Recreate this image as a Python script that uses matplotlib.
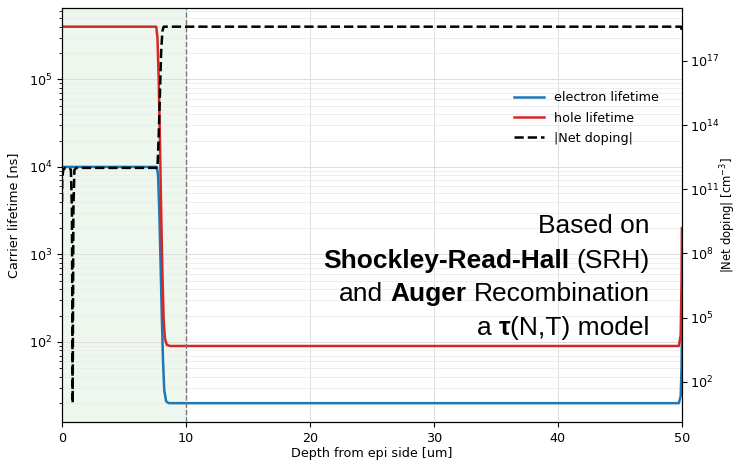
import numpy as np
import matplotlib
matplotlib.use("Agg")
import matplotlib.pyplot as plt
from matplotlib.ticker import NullLocator

# depth profile [um]
depth_e = [0, 7.65, 7.75, 7.85, 7.95, 8.05, 8.15, 8.25, 8.4, 8.6, 49.75, 49.9, 49.97, 50]
tau_e = [1e4, 1e4, 8e3, 3e3, 800, 200, 60, 28, 21, 20, 20, 24, 50, 120]

depth_h = [0, 7.6, 7.7, 7.8, 7.9, 8.0, 8.1, 8.2, 8.3, 8.45, 8.7, 49.75, 49.9, 49.97, 50]
tau_h = [4e5, 4e5, 3e5, 1e5, 2e4, 3e3, 600, 180, 110, 93, 90, 90, 120, 500, 2000]

depth_d = [0, 0.02, 0.1, 0.25, 0.6, 0.72, 0.8, 0.86, 0.92, 1.0, 1.15, 7.7, 7.8, 7.9, 8.0, 8.1, 8.2, 49.95, 50]
net_dop = [2.5e10, 3e11, 8e11, 1e12, 1e12, 8e11, 1e10, 10, 1e10, 8e11, 1e12, 1e12, 3e13, 3e15, 3e17, 2.5e18, 4e18, 4e18, 2e18]

doping_ticks = [1e2, 1e5, 1e8, 1e11, 1e14, 1e17]

# (text, weight, space before it)
note_lines = [
    [("Based on", "normal", 0)],
    [("Shockley-Read-Hall", "bold", 0), ("(SRH)", "normal", 1)],
    [("and", "normal", 0), ("Auger", "bold", 1), ("Recombination", "normal", 1)],
    [("a", "normal", 0), ("\u03c4", "bold", 1), ("(N,T) model", "normal", 0)],
]

fig = plt.figure(figsize=(7.38, 4.62), dpi=100)
ax = fig.add_subplot(111)
fig.subplots_adjust(left=0.084, right=0.924, top=0.983, bottom=0.0866)

fs = 9.2
ax.axvspan(0, 10, color="tab:green", alpha=0.08, lw=0, zorder=0)
ax.axvline(10, color="#777777", ls="--", lw=1.0, zorder=3)

l1, = ax.plot(depth_e, tau_e, color="#1f77b4", lw=1.8, label="electron lifetime")
l2, = ax.plot(depth_h, tau_h, color="#d62728", lw=1.8, label="hole lifetime")
ax.set_yscale("log")
ax.set_xlim(0, 50)
ax.set_xlabel("Depth from epi side [um]", fontsize=fs, labelpad=2)
ax.set_ylabel("Carrier lifetime [ns]", fontsize=fs, labelpad=6)
ax.tick_params(labelsize=fs)
ax.grid(True, which="major", color="#dddddd", lw=0.7)
ax.grid(True, which="minor", axis="y", color="#ebebeb", lw=0.6)

ax2 = ax.twinx()
l3, = ax2.plot(depth_d, net_dop, color="black", ls="--", lw=1.8, label="|Net doping|")
ax2.set_yscale("log")
ax2.set_yticks(doping_ticks)
ax2.yaxis.set_minor_locator(NullLocator())
ax2.set_ylabel("|Net doping| [cm$^{-3}$]", fontsize=8.4, labelpad=0)
ax2.tick_params(labelsize=fs, pad=2)
ax2.set_xlim(0, 50)

ax2.legend([l1, l2, l3], [l1.get_label(), l2.get_label(), l3.get_label()],
           loc="center", bbox_to_anchor=(0.846, 0.734), frameon=False,
           fontsize=fs, handlelength=2.4, handletextpad=0.8, labelspacing=0.55)

# annotation, right aligned, mixed bold/normal pieces
nfs = 19
right_x = 0.948
base_y = [0.457, 0.373, 0.291, 0.210]
fig.canvas.draw()
r = fig.canvas.get_renderer()
tmp = ax.text(0, 0, "x x", fontsize=nfs, family="Liberation Sans")
tmp2 = ax.text(0, 0, "xx", fontsize=nfs, family="Liberation Sans")
space = tmp.get_window_extent(r).width - tmp2.get_window_extent(r).width
tmp.remove()
tmp2.remove()
axw = ax.bbox.width
for line, yy in zip(note_lines, base_y):
    texts = []
    for s, w, gap in line:
        t = ax.text(0, yy, s, fontsize=nfs, weight=w, family="Liberation Sans",
                    transform=ax.transAxes, ha="left", va="baseline", zorder=5)
        texts.append((t, gap))
    x = right_x * axw
    for t, gap in reversed(texts):
        x -= t.get_window_extent(r).width
        t.set_x(x / axw)
        x -= gap * space

fig.savefig("out.png", dpi=100)
